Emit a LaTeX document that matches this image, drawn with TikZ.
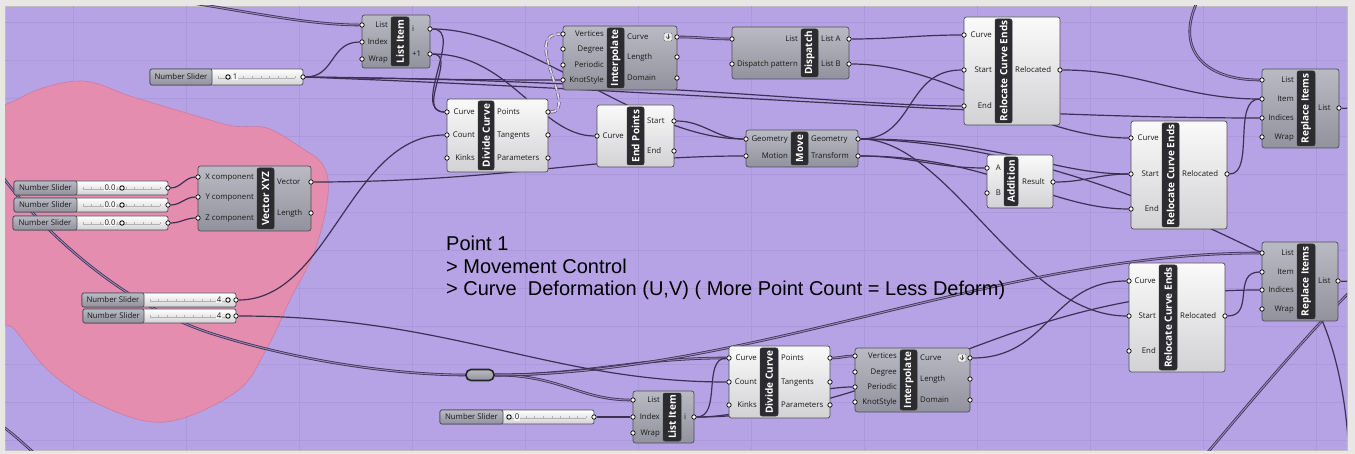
\documentclass[tikz,border=0pt]{standalone}
\usepackage{fontspec}
\setmainfont{Open Sans}
\newfontfamily\annfont{Liberation Sans}
\usetikzlibrary{shadings}
\pgfdeclarelayer{back}
\pgfdeclarelayer{wires}
\pgfsetlayers{back,wires,main}

\definecolor{canvas}{RGB}{182,163,230}
\definecolor{framec}{RGB}{233,231,229}
\definecolor{gridc}{RGB}{172,152,220}
\definecolor{blobc}{RGB}{229,141,174}
\definecolor{blobedge}{RGB}{206,122,160}
\definecolor{wirec}{RGB}{62,48,84}
\definecolor{wirein}{RGB}{150,136,182}
\definecolor{darktop}{RGB}{186,186,196}
\definecolor{darkbot}{RGB}{146,146,158}
\definecolor{lighttop}{RGB}{250,250,250}
\definecolor{lightbot}{RGB}{210,210,213}
\definecolor{edgec}{RGB}{78,78,86}
\definecolor{bandc}{RGB}{44,44,48}

\tikzset{
  compdark/.style={rounded corners=2.5pt, top color=darktop, bottom color=darkbot, draw=edgec, line width=0.7pt},
  complight/.style={rounded corners=2.5pt, top color=lighttop, bottom color=lightbot, draw=edgec, line width=0.7pt},
  bandbox/.style={rounded corners=2pt, fill=bandc, draw=black!80, line width=0.5pt},
  gtitle/.style={rotate=90, text=white, font=\fontsize{10}{10}\selectfont\bfseries, inner sep=0pt},
  port/.style={circle, draw=black, fill=white, line width=0.7pt, inner sep=0pt, minimum size=4.4pt},
  plab/.style={font=\fontsize{7.8}{8}\selectfont, inner sep=0pt, text height=5.6pt, text depth=1.4pt, text=black!90},
  sliderlab/.style={rounded corners=2pt, top color=darktop, bottom color=darkbot, draw=edgec, line width=0.7pt},
  sliderbar/.style={rounded corners=2pt, top color=white, bottom color=lightbot, draw=edgec, line width=0.7pt},
  knob/.style={circle, draw=black, line width=0.9pt, fill=white, inner sep=0pt, minimum size=4.4pt},
  relaybox/.style={rectangle, rounded corners=5pt, minimum width=28pt, minimum height=11pt, top color=darktop, bottom color=darkbot, draw=black!85, line width=1.6pt},
  wire/.style={draw=wirec, line width=1.2pt},
  dwire/.style={draw=wirec, line width=0.8pt, double=wirein, double distance=1pt},
  dashwire/.style={draw=wirec!80, line width=0.7pt, double=white!75!gray, double distance=1.6pt, dash pattern=on 6pt off 3pt},
  ann/.style={font=\annfont\fontsize{20}{22}\selectfont, inner sep=0pt, anchor=base west}
}

% component body, black title band, ports with their labels
\newcommand\ghbody[5]{\path[#1] (#2,#3) rectangle (#4,#5);}
\newcommand\ghband[5]{%
  \path[bandbox] (#1,#3+2) rectangle (#2,#4-2);
  \node[gtitle] at ({(#1+#2)/2},{(#3+#4)/2}) {#5};}
\newcommand\ghin[5]{\node[port] (#1) at (#2,#3) {}; \node[plab, anchor=east] at (#4,#3) {#5};}
\newcommand\ghout[5]{\node[port] (#1) at (#2,#3) {}; \node[plab, anchor=west] at (#4,#3) {#5};}
\newcommand\ghicon[2]{%
  \path[draw=black!60, fill=white!85!gray, rounded corners=1pt] (#1-4,#2-4) rectangle (#1+4,#2+4);
  \draw[black!70, line width=0.6pt] (#1-2,#2-0.5) -- (#1,#2+1.8) -- (#1+2,#2-0.5);
  \draw[black!70, line width=0.6pt] (#1,#2-2.5) -- (#1,#2+1.8);}
% number slider: name, x1, y1, x2, y2, label split, knob x, value, value x
\newcommand\ghslider[9]{%
  \path[sliderbar] (#2,#3) rectangle (#4,#5);
  \path[sliderlab] (#2,#3) rectangle (#6,#5);
  \node[plab] at ({(#2+#6)/2},{(#3+#5)/2}) {Number Slider};
  \draw[black!30, line width=0.5pt] (#6+6,{(#3+#5)/2+1}) -- (#4-8,{(#3+#5)/2+1});
  \foreach \k in {0,...,9}
    \draw[black!30, line width=0.5pt] ({#6+6+\k*(#4-#6-14)/9},{(#3+#5)/2-1}) -- ++(0,2);
  \node[plab, fill=white!92!gray, inner xsep=1pt] at (#9,{(#3+#5)/2}) {#8};
  \node[knob] at (#7,{(#3+#5)/2}) {};
  \node[port] (#1) at (#4,{(#3+#5)/2}) {};}

\begin{document}
\begin{tikzpicture}[x=1pt,y=-1pt]
\useasboundingbox (0,0) rectangle (1355,454);

\begin{pgfonlayer}{back}
  \fill[framec] (0,0) rectangle (1355,454);
  \path[fill=canvas, draw=black!25, line width=0.6pt] (5,6) rectangle (1347,450);
  \begin{scope}
    \clip (5,6) rectangle (1347,450);
    \foreach \x in {73,186,...,1316} \draw[gridc, line width=0.5pt] (\x,6) -- (\x,450);
    \foreach \y in {22,60,...,440} \draw[gridc, line width=0.5pt] (5,\y) -- (1347,\y);
    % group outline behind the vector inputs
    \path[fill=blobc, draw=blobedge, line width=0.6pt] plot[smooth cycle, tension=0.6] coordinates {
      (-12,135) (20,98) (80,81) (133,97) (200,117) (233,126) (267,128) (300,147)
      (323,165) (328,195) (315,250) (290,300) (266,350) (236,392) (165,422)
      (100,405) (50,372) (15,330) (-12,300)};
  \end{scope}
\end{pgfonlayer}

% ---------------- components ----------------
% List Item (top)
\ghbody{compdark}{362}{15}{430}{68}
\ghband{391}{409}{15}{68}{List Item}
\ghin{li1L}{362}{25}{388}{List}
\ghin{li1X}{362}{42}{388}{Index}
\ghin{li1W}{362}{59}{388}{Wrap}
\ghout{li1i}{430}{29}{412}{i}
\ghout{li1p}{430}{54}{412}{+1}

\ghslider{s1}{150}{69}{303}{85}{212}{228}{1}{235}

% Interpolate (top)
\ghbody{compdark}{563}{26}{677}{90}
\ghband{607}{624}{26}{90}{Interpolate}
\ghin{ip1V}{563}{34}{604}{Vertices}
\ghin{ip1D}{563}{49}{604}{Degree}
\ghin{ip1P}{563}{65}{604}{Periodic}
\ghin{ip1K}{563}{80}{604}{KnotStyle}
\ghout{ip1C}{677}{37}{627}{Curve}
\ghout{ip1L}{677}{57}{627}{Length}
\ghout{ip1M}{677}{78}{627}{Domain}
\ghicon{668}{37}

% Dispatch
\ghbody{compdark}{732}{27}{849}{79}
\ghband{801}{818}{27}{79}{Dispatch}
\ghin{dpL}{732}{39}{798}{List}
\ghin{dpP}{732}{64}{798}{Dispatch pattern}
\ghout{dpA}{849}{39}{821}{List A}
\ghout{dpB}{849}{64}{821}{List B}

% Divide Curve (top)
\ghbody{complight}{447}{99}{548}{172}
\ghband{478}{494}{99}{172}{Divide Curve}
\ghin{dc1C}{447}{112}{475}{Curve}
\ghin{dc1N}{447}{135}{475}{Count}
\ghin{dc1K}{447}{158}{475}{Kinks}
\ghout{dc1P}{548}{112}{497}{Points}
\ghout{dc1T}{548}{135}{497}{Tangents}
\ghout{dc1R}{548}{158}{497}{Parameters}

% End Points
\ghbody{complight}{597}{105}{674}{167}
\ghband{627}{644}{105}{167}{End Points}
\ghin{epC}{597}{136}{624}{Curve}
\ghout{epS}{674}{121}{647}{Start}
\ghout{epE}{674}{151}{647}{End}

% Move
\ghbody{compdark}{746}{130}{858}{167}
\ghband{791}{808}{130}{167}{Move}
\ghin{mvG}{746}{139}{788}{Geometry}
\ghin{mvM}{746}{156}{788}{Motion}
\ghout{mvO}{858}{139}{811}{Geometry}
\ghout{mvT}{858}{156}{811}{Transform}

% Relocate Curve Ends (1)
\ghbody{complight}{964}{17}{1060}{125}
\ghband{995}{1012}{17}{125}{Relocate Curve Ends}
\ghin{rc1C}{964}{35}{992}{Curve}
\ghin{rc1S}{964}{70}{992}{Start}
\ghin{rc1E}{964}{106}{992}{End}
\ghout{rc1R}{1060}{70}{1015}{Relocated}

% Relocate Curve Ends (2)
\ghbody{complight}{1131}{121}{1227}{229}
\ghband{1162}{1179}{121}{229}{Relocate Curve Ends}
\ghin{rc2C}{1131}{138}{1159}{Curve}
\ghin{rc2S}{1131}{174}{1159}{Start}
\ghin{rc2E}{1131}{209}{1159}{End}
\ghout{rc2R}{1227}{174}{1182}{Relocated}

% Addition
\ghbody{complight}{987}{155}{1053}{208}
\ghband{1004}{1018}{155}{208}{Addition}
\ghin{adA}{987}{168}{1001}{A}
\ghin{adB}{987}{193}{1001}{B}
\ghout{adR}{1053}{182}{1022}{Result}

% Replace Items (1)
\ghbody{compdark}{1262}{69}{1339}{148}
\ghband{1297}{1315}{69}{148}{Replace Items}
\ghin{ri1L}{1262}{80}{1294}{List}
\ghin{ri1I}{1262}{99}{1294}{Item}
\ghin{ri1X}{1262}{118}{1294}{Indices}
\ghin{ri1W}{1262}{137}{1294}{Wrap}
\ghout{ri1O}{1339}{108}{1318}{List}

% Replace Items (2)
\ghbody{compdark}{1262}{242}{1338}{321}
\ghband{1297}{1315}{242}{321}{Replace Items}
\ghin{ri2L}{1262}{253}{1294}{List}
\ghin{ri2I}{1262}{272}{1294}{Item}
\ghin{ri2X}{1262}{290}{1294}{Indices}
\ghin{ri2W}{1262}{309}{1294}{Wrap}
\ghout{ri2O}{1338}{281}{1318}{List}

% Relocate Curve Ends (3)
\ghbody{complight}{1129}{263}{1225}{372}
\ghband{1159}{1177}{263}{372}{Relocate Curve Ends}
\ghin{rc3C}{1129}{281}{1156}{Curve}
\ghin{rc3S}{1129}{316}{1156}{Start}
\ghin{rc3E}{1129}{351}{1156}{End}
\ghout{rc3R}{1225}{316}{1180}{Relocated}

% Vector XYZ
\ghbody{compdark}{198}{166}{311}{231}
\ghband{257}{274}{166}{231}{Vector XYZ}
\ghin{vxX}{198}{177}{254}{X component}
\ghin{vxY}{198}{197}{254}{Y component}
\ghin{vxZ}{198}{218}{254}{Z component}
\ghout{vxV}{311}{182}{277}{Vector}
\ghout{vxL}{311}{213}{277}{Length}

\ghslider{sx}{14}{181}{168}{195}{77}{122}{0.0}{110}
\ghslider{sy}{14}{198}{168}{212}{77}{122}{0.0}{110}
\ghslider{sz}{13}{216}{168}{230}{77}{122}{0.0}{110}
\ghslider{sa}{82}{293}{236}{307}{144}{228}{4}{219}
\ghslider{sb}{83}{309}{236}{323}{144}{228}{4}{219}

% relay
\node[relaybox] (rl) at (480,375) {};

\ghslider{s0}{440}{410}{594}{424}{503}{509}{0}{517}

% List Item (bottom)
\ghbody{compdark}{633}{391}{694}{443}
\ghband{663}{681}{391}{443}{List Item}
\ghin{li2L}{633}{400}{660}{List}
\ghin{li2X}{633}{417}{660}{Index}
\ghin{li2W}{633}{433}{660}{Wrap}
\ghout{li2i}{694}{417}{684}{i}

% Divide Curve (bottom)
\ghbody{complight}{729}{346}{830}{418}
\ghband{760}{778}{346}{418}{Divide Curve}
\ghin{dc2C}{729}{358}{757}{Curve}
\ghin{dc2N}{729}{382}{757}{Count}
\ghin{dc2K}{729}{405}{757}{Kinks}
\ghout{dc2P}{830}{358}{781}{Points}
\ghout{dc2T}{830}{382}{781}{Tangents}
\ghout{dc2R}{830}{405}{781}{Parameters}

% Interpolate (bottom)
\ghbody{compdark}{855}{348}{970}{412}
\ghband{900}{917}{348}{412}{Interpolate}
\ghin{ip2V}{855}{356}{897}{Vertices}
\ghin{ip2D}{855}{372}{897}{Degree}
\ghin{ip2P}{855}{387}{897}{Periodic}
\ghin{ip2K}{855}{402}{897}{KnotStyle}
\ghout{ip2C}{970}{358}{920}{Curve}
\ghout{ip2L}{970}{379}{920}{Length}
\ghout{ip2M}{970}{400}{920}{Domain}
\ghicon{962}{358}

% annotation
\node[ann] (t1) at (446,251) {Point 1};
\node[ann] (t2) at (446,274) {> Movement Control};
\node[ann] (t3) at (446,296) {> Curve\ \ Deformation (U,V) ( More Point Count = Less Deform)};

% ---------------- wires ----------------
\coordinate (topL) at (185,2);
\coordinate (topR) at (1197,2);
\coordinate (leftA) at (2,176);
\coordinate (leftB) at (2,426);
\coordinate (botL) at (40,458);
\coordinate (rtA) at (1358,108);
\coordinate (rtB) at (1358,281);
\coordinate (rtC) at (1358,284);
\coordinate (botR1) at (1203,458);
\coordinate (hidA) at (1312,300);
\coordinate (botR2) at (1349,458);

\begin{pgfonlayer}{wires}
\begin{scope}
\clip (5,6) rectangle (1347,450);
\draw[dwire] (topL) .. controls (250,12) and (310,25) .. (li1L);
\draw[wire] (s1) .. controls (335,77) and (330,42) .. (li1X);
\draw[wire] (s1) .. controls (420,79) and (470,80) .. (ip1K);
\draw[wire] (s1) .. controls (650,80) and (850,106) .. (rc1E);
\draw[wire] (s1) .. controls (700,92) and (1000,118) .. (ri1X);
\draw[wire] (li1i) .. controls (465,29) and (410,112) .. (dc1C);
\draw[wire] (li1p) .. controls (458,54) and (415,112) .. (dc1C);
\draw[wire] (li1i) .. controls (530,29) and (640,139) .. (mvG);
\draw[wire] (li1p) .. controls (510,54) and (540,136) .. (epC);
\draw[dashwire] (dc1P) .. controls (580,112) and (520,34) .. (ip1V);
\draw[wire] (vxV) .. controls (500,182) and (600,156) .. (mvM);
\draw[wire] (epS) to[out=0,in=180] (mvG);
\draw[dwire] (ip1C) to[out=0,in=180] (dpL);
\draw[wire] (dpA) to[out=0,in=180] (rc1C);
\draw[wire] (dpB) .. controls (950,64) and (1030,138) .. (rc2C);
\draw[wire] (mvO) .. controls (915,139) and (905,70) .. (rc1S);
\draw[wire] (mvO) .. controls (1000,139) and (1050,174) .. (rc2S);
\draw[wire] (mvO) .. controls (950,139) and (1020,316) .. (rc3S);
\draw[wire] (mvO) .. controls (1050,143) and (1225,236) .. (ri2L);
\draw[wire] (mvT) to[out=0,in=180] (adA);
\draw[wire] (mvT) .. controls (990,156) and (1050,209) .. (rc2E);
\draw[wire] (adR) to[out=0,in=180] (rc2S);
\draw[wire] (rc1R) to[out=0,in=180] (ri1I);
\draw[wire] (rc2R) .. controls (1255,174) and (1232,99) .. (ri1I);
\draw[dwire] (topR) .. controls (1175,50) and (1205,80) .. (ri1L);
\draw[dwire] (ri1O) -- (rtA);
\draw[dwire] (ri2O) -- (rtB);
\draw[wire] (rc3R) .. controls (1255,316) and (1232,272) .. (ri2I);
\draw[dwire] (leftA) .. controls (30,215) and (110,300) .. (210,333) .. controls (300,362) and (400,375) .. (rl);
\draw[dwire] (rl) to[out=0,in=180] (dc2C);
\draw[dwire] (rl) .. controls (560,375) and (580,400) .. (li2L);
\draw[dwire] (rl) .. controls (750,375) and (1000,253) .. (ri2L);
\draw[wire] (sa) .. controls (330,300) and (350,135) .. (dc1N);
\draw[wire] (sb) .. controls (450,316) and (550,382) .. (dc2N);
\draw[wire] (s0) -- (li2X);
\draw[wire] (li2i) .. controls (722,417) and (702,358) .. (dc2C);
\draw[wire] (li2i) .. controls (760,417) and (800,387) .. (ip2P);
\draw[wire] (li2i) .. controls (900,417) and (1000,290) .. (ri2X);
\draw[dwire] (dc2P) to[out=0,in=180] (ip2V);
\draw[wire] (ip2C) .. controls (1050,358) and (1050,281) .. (rc3C);
\draw[wire] (sx) to[out=0,in=180] (vxX);
\draw[wire] (sy) to[out=0,in=180] (vxY);
\draw[wire] (sz) to[out=0,in=180] (vxZ);
\draw[dwire] (leftB) .. controls (15,435) and (30,450) .. (botL);
\draw[dwire] (botR1) .. controls (1260,390) and (1320,320) .. (rtC);
\draw[wire] (hidA) .. controls (1335,340) and (1347,400) .. (botR2);
\end{scope}
\end{pgfonlayer}
\end{tikzpicture}
\end{document}
